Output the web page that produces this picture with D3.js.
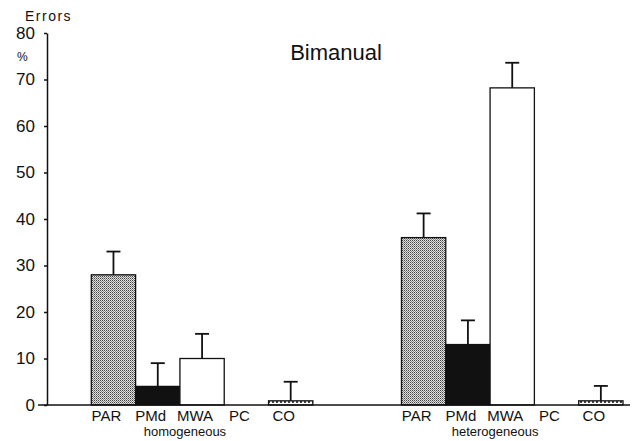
<!DOCTYPE html>
<html>
<head>
  <meta charset="UTF-8">
  <title>Bimanual errors</title>
  <script src="https://d3js.org/d3.v7.min.js"></script>
  <style>
    body { margin: 0; background: #ffffff; }
    text { font-family: "Liberation Sans", Arial, sans-serif; fill: #111; }
    .axis path, .axis line { stroke: #111; stroke-width: 1.5; }
    .catLabel { font-size: 15px; font-family: "Liberation Sans Narrow", "Liberation Sans", sans-serif; }
    .groupLabel { font-size: 13px; }
  </style>
</head>
<body>
<div id="chart"></div>
<script>
  var categories = ["PAR", "PMd", "MWA", "PC", "CO"];
  var groups = ["homogeneous", "heterogeneous"];
  // mean error % and upper end of the error bar, per group
  var homMeans = [28, 4, 10, 0, 0.9];
  var homUpper = [33, 9, 15.3, null, 5];
  var hetMeans = [36, 13, 68.2, 0, 0.9];
  var hetUpper = [41.2, 18.2, 73.6, null, 4.1];
  var yTicks = [0, 10, 20, 30, 40, 50, 60, 70, 80];

  var W = 634, H = 441;
  var m = {top: 33, left: 47, bottom: 36, right: 12};

  // slots along the x axis: one empty slot, five bars, two empty, five bars
  var slots = ["s0"]
    .concat(categories.map(function(c) { return "hom-" + c; }))
    .concat(["s6", "s7"])
    .concat(categories.map(function(c) { return "het-" + c; }));

  var items = [];
  categories.forEach(function(c, i) {
    items.push({key: "hom-" + c, cat: c, v: homMeans[i], up: homUpper[i]});
  });
  categories.forEach(function(c, i) {
    items.push({key: "het-" + c, cat: c, v: hetMeans[i], up: hetUpper[i]});
  });

  var x = d3.scaleBand().domain(slots).range([m.left, 623]).padding(0);
  var y = d3.scaleLinear().domain([0, 80]).range([H - m.bottom, m.top]);

  var svg = d3.select("#chart").append("svg")
    .attr("width", W)
    .attr("height", H);

  var defs = svg.append("defs");
  // fine stipple for PAR
  var p1 = defs.append("pattern")
    .attr("id", "hatch")
    .attr("patternUnits", "userSpaceOnUse")
    .attr("width", 2).attr("height", 2);
  p1.append("rect").attr("width", 2).attr("height", 2).attr("fill", "#e0e0e0");
  p1.append("rect").attr("width", 1).attr("height", 1).attr("fill", "#444");
  p1.append("rect").attr("x", 1).attr("y", 1).attr("width", 1).attr("height", 1).attr("fill", "#888");
  // dotted fill for CO
  var p2 = defs.append("pattern")
    .attr("id", "dots")
    .attr("patternUnits", "userSpaceOnUse")
    .attr("width", 4).attr("height", 4);
  p2.append("rect").attr("width", 4).attr("height", 4).attr("fill", "#fff");
  p2.append("rect").attr("x", 0).attr("y", 1).attr("width", 2).attr("height", 2).attr("fill", "#444");

  var fills = {PAR: "url(#hatch)", PMd: "#111", MWA: "#fff", PC: "#fff", CO: "url(#dots)"};

  // y axis
  var yAxis = d3.axisLeft(y).tickValues(yTicks).tickSize(3).tickSizeOuter(0).tickPadding(9);
  var gY = svg.append("g")
    .attr("class", "axis")
    .attr("transform", "translate(" + m.left + ",0)")
    .call(yAxis);
  gY.selectAll(".tick text")
    .attr("font-size", 17)
    .attr("font-family", "'Liberation Sans', Arial, sans-serif")
    .attr("fill", "#111");

  // bars
  var bars = items.filter(function(d) { return d.v > 0; });
  svg.append("g").selectAll("rect")
    .data(bars)
    .enter().append("rect")
    .attr("x", function(d) { return x(d.key); })
    .attr("y", function(d) { return y(d.v); })
    .attr("width", x.bandwidth())
    .attr("height", function(d) { return y(0) - y(d.v); })
    .attr("fill", function(d) { return fills[d.cat]; })
    .attr("stroke", "#111")
    .attr("stroke-width", 1.3);

  // error bars (upper only)
  var errs = items.filter(function(d) { return d.up != null; });
  var eg = svg.append("g").attr("stroke", "#111").attr("stroke-width", 1.8);
  eg.selectAll("line.v")
    .data(errs)
    .enter().append("line")
    .attr("class", "v")
    .attr("x1", function(d) { return x(d.key) + x.bandwidth() / 2; })
    .attr("x2", function(d) { return x(d.key) + x.bandwidth() / 2; })
    .attr("y1", function(d) { return y(d.v); })
    .attr("y2", function(d) { return y(d.up); });
  eg.selectAll("line.c")
    .data(errs)
    .enter().append("line")
    .attr("class", "c")
    .attr("x1", function(d) { return x(d.key) + x.bandwidth() / 2 - 7; })
    .attr("x2", function(d) { return x(d.key) + x.bandwidth() / 2 + 7; })
    .attr("y1", function(d) { return y(d.up); })
    .attr("y2", function(d) { return y(d.up); });

  // baseline
  svg.append("line")
    .attr("x1", 38).attr("x2", 630)
    .attr("y1", y(0)).attr("y2", y(0))
    .attr("stroke", "#111").attr("stroke-width", 1.5);

  // category labels
  svg.append("g").selectAll("text")
    .data(items)
    .enter().append("text")
    .attr("class", "catLabel")
    .attr("x", function(d) { return x(d.key) + x.bandwidth() / 2 - 7; })
    .attr("y", y(0) + 16)
    .attr("text-anchor", "middle")
    .text(function(d) { return d.cat; });

  // group labels
  svg.append("g").selectAll("text")
    .data(groups)
    .enter().append("text")
    .attr("class", "groupLabel")
    .attr("x", function(d, i) { return x((i ? "het-" : "hom-") + "MWA") + 5; })
    .attr("y", y(0) + 31)
    .attr("text-anchor", "middle")
    .text(function(d) { return d; });

  // axis title and units
  svg.append("text")
    .attr("x", 25).attr("y", 21)
    .attr("font-size", 14)
    .attr("letter-spacing", 1.5)
    .text("Errors");
  svg.append("text")
    .attr("x", 17).attr("y", 61)
    .attr("font-size", 12)
    .text("%");

  // title
  svg.append("text")
    .attr("x", 336).attr("y", 60)
    .attr("text-anchor", "middle")
    .attr("font-size", 22)
    .text("Bimanual");
</script>
</body>
</html>
